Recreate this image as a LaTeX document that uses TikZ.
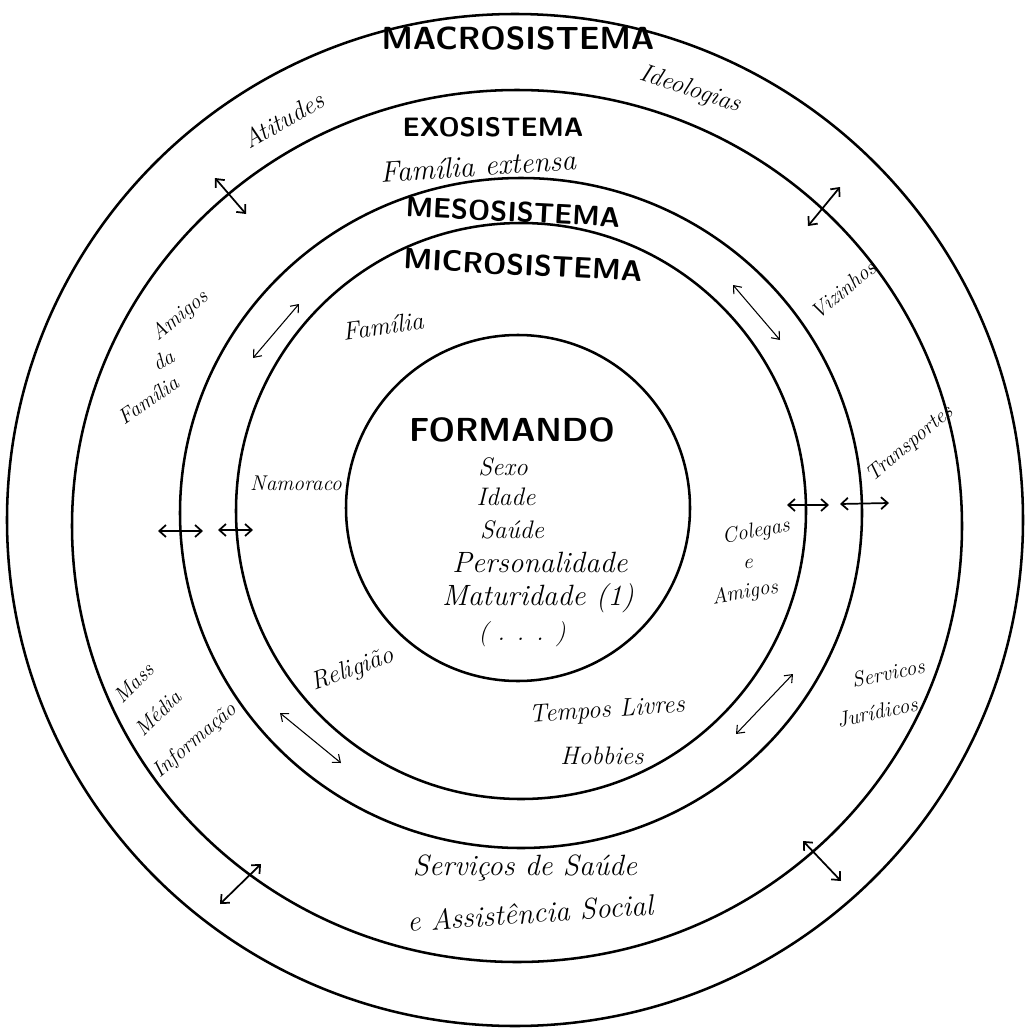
\documentclass[tikz,border=0pt]{standalone}
\usepackage{amsmath}
\usepackage{tikz}
\usetikzlibrary{arrows.meta}

\tikzset{
  ring/.style={line width=1.9pt},
  twoway/.style={line width=1.3pt,{Straight Barb[length=5pt,width=9pt]}-{Straight Barb[length=5pt,width=9pt]}},
  thinway/.style={line width=0.8pt,{Straight Barb[length=5pt,width=8pt]}-{Straight Barb[length=5pt,width=8pt]}},
  sysname/.style={font=\sffamily\bfseries\fontsize{22}{26}\selectfont,inner sep=0.75pt},
  hand/.style={font=\itshape\fontsize{19}{23}\selectfont,inner sep=0.75pt},
  smallhand/.style={font=\itshape\fontsize{16}{19}\selectfont,inner sep=0.5pt},
}

\begin{document}
\begin{tikzpicture}[x=0.75pt,y=0.75pt,yscale=-1,xscale=1]
\useasboundingbox (0,0) rectangle (1035,1031);

%Shape: Ellipse (macrosistema)
\draw [ring] (515,520) ellipse (508 and 506);
%Shape: Ellipse (exosistema)
\draw [ring] (517,526) ellipse (445 and 436);
%Shape: Ellipse (mesosistema)
\draw [ring] (521,513) ellipse (341 and 335);
%Shape: Ellipse (microsistema)
\draw [ring] (521,511) ellipse (285 and 288);
%Shape: Circle (formando)
\draw [ring] (518,508) ellipse (172 and 173);

% Text Node
\node (macro) at (518,38) [sysname,font=\sffamily\bfseries\fontsize{24}{28}\selectfont] {MACROSISTEMA};
\node (exo) at (493,127) [sysname,font=\sffamily\bfseries\fontsize{20}{24}\selectfont] {EXOSISTEMA};
\node (meso) at (513,212) [sysname,rotate=-3,font=\sffamily\bfseries\fontsize{21}{25}\selectfont] {MESOSISTEMA};
\node (micro) at (523,265) [sysname,rotate=-3] {MICROSISTEMA};
\node (formando) at (512,430) [sysname,font=\sffamily\bfseries\fontsize{25}{30}\selectfont] {FORMANDO};

% Text Node
\node (ideol) at (690,90) [hand,rotate=-18] {Ideologias};
\node (atit) at (283,120) [hand,rotate=30] {Atitudes};
\node (famext) at (478,166) [hand,rotate=4,font=\itshape\fontsize{22}{26}\selectfont] {Família extensa};
\node (fam) at (383,326) [hand,rotate=8] {Família};
\node (amigos) at (180,316) [smallhand,rotate=40] {Amigos};
\node (da) at (163,360) [smallhand,rotate=30] {da};
\node (famamig) at (148,400) [smallhand,rotate=35] {Família};
\node (vizinhos) at (843,290) [smallhand,rotate=40] {Vizinhos};
\node (transp) at (910,444) [smallhand,rotate=40] {Transportes};
\node (namoro) at (296,483) [smallhand] {Namoraco};

% Text Node
\node (sexo) at (503,467) [hand] {Sexo};
\node (idade) at (506,497) [hand] {Idade};
\node (saude) at (512,530) [hand] {Saúde};
\node (perso) at (540,562) [hand,font=\itshape\fontsize{22}{26}\selectfont] {Personalidade};
\node (matur) at (538,598) [hand,font=\itshape\fontsize{22}{26}\selectfont] {Maturidade (1)};
\node (etc) at (522,634) [hand] {( . . . )};

% Text Node
\node (colegas) at (756,532) [smallhand,rotate=10] {Colegas};
\node (e) at (748,564) [smallhand] {e};
\node (amigos2) at (745,593) [smallhand,rotate=10] {Amigos};
\node (relig) at (353,670) [hand,rotate=20] {Religião};
\node (mass) at (134,683) [smallhand,rotate=45] {Mass};
\node (media) at (158,713) [smallhand,rotate=45] {Média};
\node (info) at (195,741) [smallhand,rotate=41] {Informação};
\node (tempos) at (607,711) [hand,rotate=4] {Tempos Livres};
\node (hobbies) at (602,756) [hand] {Hobbies};
\node (servj) at (888,673) [smallhand,rotate=12] {Servicos};
\node (jurid) at (877,712) [smallhand,rotate=12] {Jurídicos};
\node (servs) at (525,868) [hand,font=\itshape\fontsize{22}{26}\selectfont] {Serviços de Saúde};
\node (assist) at (530,913) [hand,rotate=4,font=\itshape\fontsize{22}{26}\selectfont] {e Assistência Social};

% Arrows
\coordinate (a1s) at (215,178);
\coordinate (a1e) at (246,214);
\draw [twoway] (a1s) -- (a1e);
\coordinate (a2s) at (840,187);
\coordinate (a2e) at (808,226);
\draw [twoway] (a2s) -- (a2e);
\coordinate (a3s) at (299,304);
\coordinate (a3e) at (253,358);
\draw [thinway] (a3s) -- (a3e);
\coordinate (a4s) at (733,285);
\coordinate (a4e) at (780,340);
\draw [thinway] (a4s) -- (a4e);
\coordinate (a5s) at (158,531);
\coordinate (a5e) at (203,531);
\draw [twoway] (a5s) -- (a5e);
\coordinate (a6s) at (218,530);
\coordinate (a6e) at (253,530);
\draw [twoway] (a6s) -- (a6e);
\coordinate (a7s) at (787,505);
\coordinate (a7e) at (829,505);
\draw [twoway] (a7s) -- (a7e);
\coordinate (a8s) at (840,504);
\coordinate (a8e) at (889,503);
\draw [twoway] (a8s) -- (a8e);
\coordinate (a9s) at (280,713);
\coordinate (a9e) at (341,763);
\draw [thinway] (a9s) -- (a9e);
\coordinate (a10s) at (793,674);
\coordinate (a10e) at (736,734);
\draw [thinway] (a10s) -- (a10e);
\coordinate (a11s) at (261,864);
\coordinate (a11e) at (220,904);
\draw [twoway] (a11s) -- (a11e);
\coordinate (a12s) at (803,841);
\coordinate (a12e) at (841,881);
\draw [twoway] (a12s) -- (a12e);

\end{tikzpicture}
\end{document}
